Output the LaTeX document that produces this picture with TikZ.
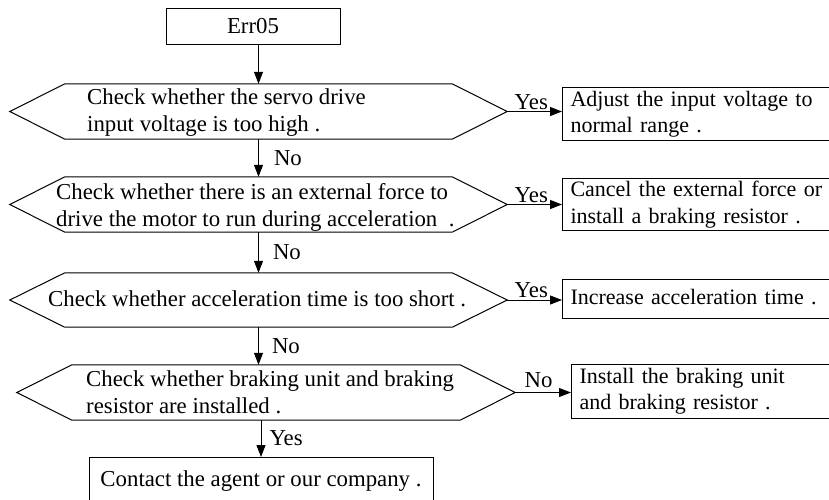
\documentclass[tikz,border=0pt]{standalone}
\usepackage{fontspec}
\setmainfont{Liberation Serif}
\usetikzlibrary{arrows.meta,calc}
\newcommand{\twolines}[1]{\begin{tabular}{@{}l@{}}#1\end{tabular}}
\begin{document}
\begin{tikzpicture}[x=1pt,y=-1pt,
  every node/.style={font=\fontsize{22.8}{27}\selectfont},
  ln/.style={line width=1pt},
  arr/.style={line width=1pt,-{Triangle[length=12pt,width=9pt]}},
  hexbox/.style={minimum height=55pt,inner sep=0pt},
  txt/.style={inner sep=0pt,align=left,anchor=west},
  rbox/.style={draw,line width=1pt,anchor=north west,align=left,inner ysep=0pt,minimum width=290pt,
    font=\fontsize{22}{27}\selectfont},
  lab/.style={inner sep=0pt}]
\renewcommand{\arraystretch}{0.97}
\useasboundingbox (0,0) rectangle (829,499);
\clip (0,0) rectangle (829,499);
\fill[white] (0,0) rectangle (829,499);

% start box
\node[draw, ln, minimum width=174pt, minimum height=36pt, inner sep=0pt] (e) at (253,26) {Err05};

% decision hexagons
\node[hexbox, minimum width=497pt] (h1) at (258.5,111.5) {};
\node[hexbox, minimum width=497pt] (h2) at (258.5,204.5) {};
\node[hexbox, minimum width=497pt, minimum height=54pt] (h3) at (258.5,300) {};
\node[hexbox, minimum width=498pt] (h4) at (266,392.5) {};
\foreach \n in {h1,h2,h3,h4}
  \draw[ln] (\n.west) -- ([xshift=55pt]\n.north west) -- ([xshift=-55pt]\n.north east)
    -- (\n.east) -- ([xshift=-55pt]\n.south east) -- ([xshift=55pt]\n.south west) -- cycle;

\node[txt] (t1) at (87,112.5) {Check whether the servo drive\\input voltage is too high .};
\node[txt] (t2) at (56,207) {Check whether there is an external force to\\drive the motor to run during acceleration\ \ .};
\node[txt] (t3) at (48,299) {Check whether acceleration time is too short .};
\node[txt] (t4) at (86,392) {Check whether braking unit and braking\\resistor are installed .};

% action boxes
\node[rbox, minimum height=53pt, inner xsep=8pt, text width=274pt] (b1) at (562,87) {\twolines{Adjust the input voltage to\\normal range .}};
\node[rbox, minimum height=50pt, inner xsep=8pt, text width=274pt] (b2) at (562,178) {\twolines{Cancel the external force or\\install a braking resistor .}};
\node[rbox, minimum height=39pt, inner xsep=8pt, text width=274pt] (b3) at (562,279) {\twolines{Increase acceleration time .}};
\node[rbox, minimum height=54pt, inner xsep=8pt, text width=274pt] (b4) at (571,364) {\twolines{Install the braking unit\\and braking resistor .}};
\node[draw, ln, anchor=north, minimum width=344pt, minimum height=48pt, inner sep=0pt, align=center] (c) at (261,457) {Contact the agent or our company .};

% vertical connectors
\draw[arr] (e.south -| h1.north) -- (h1.north);
\draw[arr] (h1.south) -- node[lab, midway, anchor=west, xshift=15pt] {No} (h2.north);
\draw[arr] (h2.south) -- node[lab, midway, anchor=west, xshift=14pt] {No} (h3.north);
\draw[arr] (h3.south) -- node[lab, midway, anchor=west, xshift=13pt] {No} (h3.south |- h4.north);
\draw[arr] (h4.south -| c.north) -- node[lab, midway, anchor=west, xshift=8pt] {Yes} (c.north);

% horizontal connectors
\draw[arr] (h1.east) -- (h1.east -| b1.west) node[lab, pos=0, anchor=base west, xshift=7pt, yshift=2pt] {Yes};
\draw[arr] (h2.east) -- (h2.east -| b2.west) node[lab, pos=0, anchor=base west, xshift=7pt, yshift=2pt] {Yes};
\draw[arr] (h3.east) -- (h3.east -| b3.west) node[lab, pos=0, anchor=base west, xshift=7pt, yshift=3pt] {Yes};
\draw[arr] (h4.east) -- (h4.east -| b4.west) node[lab, pos=0, anchor=base west, xshift=9pt, yshift=5pt] {No};
\end{tikzpicture}
\end{document}
